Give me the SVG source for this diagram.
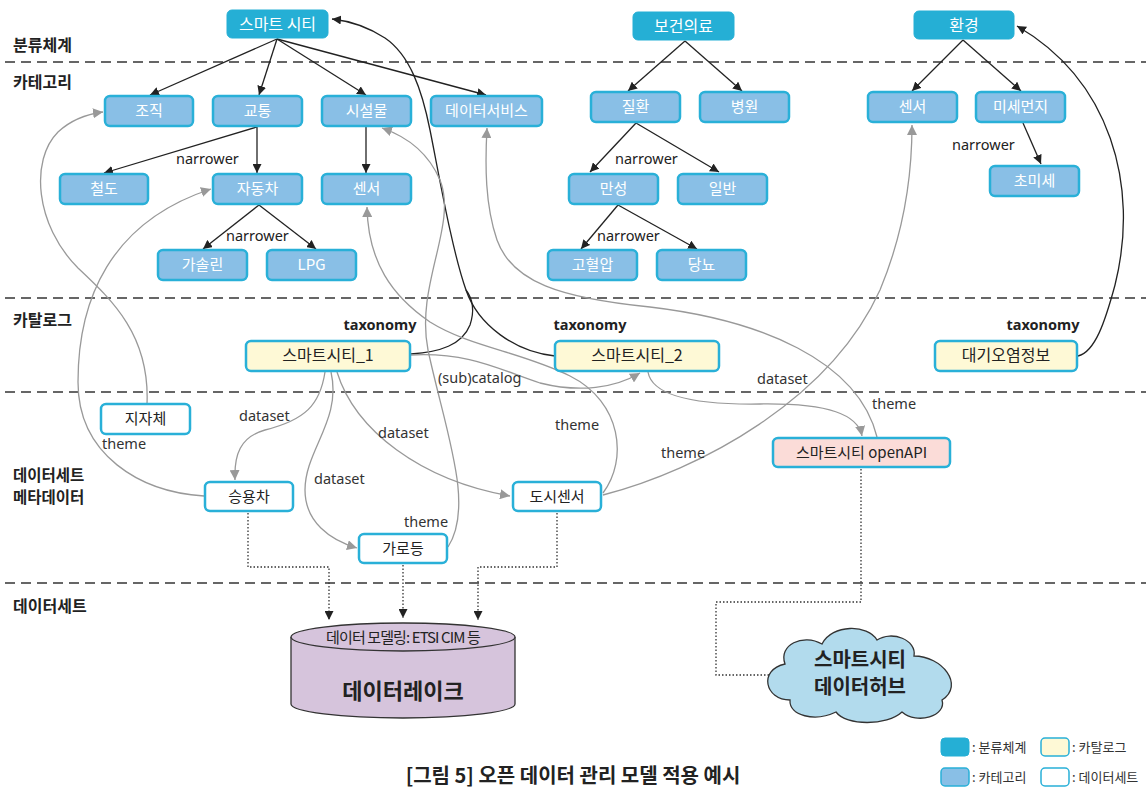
<svg xmlns="http://www.w3.org/2000/svg" width="1146" height="788" viewBox="0 0 1146 788">
<style>
.sec{font-family:"Noto Sans CJK KR","Noto Sans",sans-serif;font-weight:700;font-size:16px;fill:#222}
.tx{fill:#25afd5;stroke:#25afd5;stroke-width:1}
.cat{fill:#89bfe6;stroke:#29b0d8;stroke-width:2.5}
.ctl{fill:#fef9d6;stroke:#29b0d8;stroke-width:2.5}
.ds{fill:#ffffff;stroke:#29b0d8;stroke-width:2.5}
.api{fill:#fbdcd8;stroke:#29b0d8;stroke-width:2.5}
.wt{font-family:"Noto Sans CJK KR","Noto Sans",sans-serif;font-size:15px;fill:#ffffff;text-anchor:middle}
.dt{font-family:"Noto Sans CJK KR","Noto Sans",sans-serif;font-size:15px;fill:#222;text-anchor:middle}
.big{font-size:16px}
.lbl{font-family:"Noto Sans","Noto Sans CJK KR",sans-serif;font-size:14.5px;fill:#222}
.glbl{font-family:"Noto Sans","Noto Sans CJK KR",sans-serif;font-size:14.5px;fill:#333}
.bl{font-family:"Noto Sans","Noto Sans CJK KR",sans-serif;font-size:14.5px;font-weight:700;fill:#222;text-anchor:middle}
.dash{stroke:#666;stroke-width:2;stroke-dasharray:10 6;fill:none}
.blk{stroke:#222;stroke-width:1.3;fill:none}
.gry{stroke:#999;stroke-width:1.3;fill:none}
.dot{stroke:#333;stroke-width:1.3;stroke-dasharray:1.5 2;fill:none}
.leg{font-family:"Noto Sans CJK KR","Noto Sans",sans-serif;font-size:13px;fill:#333}
</style>
<defs>
<marker id="ab" viewBox="0 0 10 10" refX="10" refY="5" markerWidth="9" markerHeight="9" markerUnits="userSpaceOnUse" orient="auto"><path d="M0,0 L10,5 L0,10 z" fill="#222"/></marker>
<marker id="ag" viewBox="0 0 10 10" refX="10" refY="5" markerWidth="10" markerHeight="10" markerUnits="userSpaceOnUse" orient="auto"><path d="M0,0 L10,5 L0,10 z" fill="#999"/></marker>
</defs>
<rect width="1146" height="788" fill="#ffffff"/>

<!-- section separators -->
<g id="sections">
<line class="dash" x1="5" y1="62" x2="1146" y2="62"/>
<line class="dash" x1="5" y1="298" x2="1146" y2="298"/>
<line class="dash" x1="5" y1="392" x2="1146" y2="392"/>
<line class="dash" x1="5" y1="583" x2="1146" y2="583"/>
<text class="sec" x="13" y="51">분류체계</text>
<text class="sec" x="13" y="88">카테고리</text>
<text class="sec" x="13" y="326">카탈로그</text>
<text class="sec" x="13" y="481" style="font-size:15.5px">데이터세트</text>
<text class="sec" x="13" y="503" style="font-size:15.5px">메타데이터</text>
<text class="sec" x="13" y="612">데이터세트</text>
</g>

<!-- connectors -->
<g id="connectors">
<!-- taxonomy trees -->
<line class="blk" x1="277" y1="39" x2="150" y2="95" marker-end="url(#ab)"/>
<line class="blk" x1="277" y1="39" x2="259" y2="95" marker-end="url(#ab)"/>
<line class="blk" x1="277" y1="39" x2="366" y2="95" marker-end="url(#ab)"/>
<line class="blk" x1="277" y1="39" x2="486" y2="95" marker-end="url(#ab)"/>
<line class="blk" x1="257" y1="127" x2="104" y2="173" marker-end="url(#ab)"/>
<line class="blk" x1="257" y1="127" x2="257" y2="173" marker-end="url(#ab)"/>
<line class="blk" x1="366" y1="127" x2="366" y2="173" marker-end="url(#ab)"/>
<line class="blk" x1="259" y1="205" x2="203" y2="249" marker-end="url(#ab)"/>
<line class="blk" x1="259" y1="205" x2="316" y2="249" marker-end="url(#ab)"/>
<line class="blk" x1="685" y1="41" x2="628" y2="91" marker-end="url(#ab)"/>
<line class="blk" x1="685" y1="41" x2="742" y2="91" marker-end="url(#ab)"/>
<line class="blk" x1="636" y1="123" x2="590" y2="172" marker-end="url(#ab)"/>
<line class="blk" x1="636" y1="123" x2="719" y2="172" marker-end="url(#ab)"/>
<line class="blk" x1="618" y1="205" x2="581" y2="249" marker-end="url(#ab)"/>
<line class="blk" x1="618" y1="205" x2="697" y2="249" marker-end="url(#ab)"/>
<line class="blk" x1="963" y1="40" x2="912" y2="91" marker-end="url(#ab)"/>
<line class="blk" x1="963" y1="40" x2="1021" y2="91" marker-end="url(#ab)"/>
<line class="blk" x1="1023" y1="123" x2="1041" y2="164" marker-end="url(#ab)"/>
<text class="lbl" x="176" y="164">narrower</text>
<text class="lbl" x="226" y="241">narrower</text>
<text class="lbl" x="615" y="164">narrower</text>
<text class="lbl" x="597" y="241">narrower</text>
<text class="lbl" x="952" y="150">narrower</text>

<!-- taxonomy links from catalogs -->
<path class="blk" d="M555,356 C515,352 478,325 466,290 C452,250 440,180 430,130 C422,90 410,55 385,38 C368,27 350,21 332,19" marker-end="url(#ab)"/>
<path class="blk" d="M411,354 C440,352 462,345 470,325 C475,310 472,298 466,290"/>
<path class="blk" d="M1078,356 C1095,352 1105,322 1115,285 C1140,185 1110,80 1017,26" marker-end="url(#ab)"/>
<text class="bl" x="380" y="330">taxonomy</text>
<text class="bl" x="590" y="330">taxonomy</text>
<text class="bl" x="1043" y="330">taxonomy</text>

<!-- theme links -->
<path class="gry" d="M147,404 C150,335 112,300 78,268 C35,225 30,160 58,132 C72,119 88,114 103,112" marker-end="url(#ag)"/>
<path class="gry" d="M204,496 C140,492 78,455 78,382 C78,300 110,222 211,189" marker-end="url(#ag)"/>
<path class="gry" d="M448,547 C475,505 445,430 428,350 C415,285 458,225 440,180 C428,152 405,136 382,128" marker-end="url(#ag)"/>
<path class="gry" d="M877,437 C858,360 760,320 650,307 C560,298 512,282 497,240 C485,205 485,165 487,128" marker-end="url(#ag)"/>
<path class="gry" d="M603,495 C700,470 830,400 880,290 C905,230 912,175 912,125" marker-end="url(#ag)"/>
<path class="gry" d="M603,493 C628,460 622,402 570,376 C522,352 470,347 430,322 C392,296 368,262 367,207" marker-end="url(#ag)"/>
<text class="glbl" x="102" y="449">theme</text>
<text class="glbl" x="404" y="527">theme</text>
<text class="glbl" x="555" y="430">theme</text>
<text class="glbl" x="661" y="458">theme</text>
<text class="glbl" x="872" y="409">theme</text>

<!-- catalog / dataset links -->
<path class="gry" d="M411,355 C470,352 500,370 540,383 C580,393 615,388 640,373" marker-end="url(#ag)"/>
<path class="gry" d="M325,372 C320,405 305,420 265,430 C240,437 234,455 235,480" marker-end="url(#ag)"/>
<path class="gry" d="M331,372 C342,420 305,450 305,490 C305,522 330,540 357,548" marker-end="url(#ag)"/>
<path class="gry" d="M337,372 C355,430 420,480 510,496" marker-end="url(#ag)"/>
<path class="gry" d="M648,372 C652,395 690,405 760,404 C830,403 858,415 862,436" marker-end="url(#ag)"/>
<text class="glbl" x="438" y="383">(sub)catalog</text>
<text class="glbl" x="239" y="421">dataset</text>
<text class="glbl" x="314" y="484">dataset</text>
<text class="glbl" x="378" y="438">dataset</text>
<text class="glbl" x="757" y="384">dataset</text>

<!-- dotted storage links -->
<path class="dot" d="M248,513 V567 H329 V620" marker-end="url(#ab)"/>
<path class="dot" d="M403,565 V618" marker-end="url(#ab)"/>
<path class="dot" d="M557,513 V567 H478 V620" marker-end="url(#ab)"/>
<path class="dot" d="M861,469 V602 H716 V675 H801" marker-end="url(#ab)"/>
</g>

<!-- taxonomy nodes -->
<g id="n-smartcity"><rect class="tx" x="227" y="10" width="101" height="28" rx="5"/><text class="wt big" x="277.5" y="30">스마트 시티</text></g>
<g id="n-health"><rect class="tx" x="633" y="12" width="101" height="28" rx="5"/><text class="wt big" x="683.5" y="32">보건의료</text></g>
<g id="n-env"><rect class="tx" x="914" y="11" width="100" height="28" rx="5"/><text class="wt big" x="964" y="31">환경</text></g>

<!-- category nodes -->
<g id="n-org"><rect class="cat" x="105" y="96" width="88" height="30" rx="5"/><text class="wt" x="149" y="116">조직</text></g>
<g id="n-traffic"><rect class="cat" x="213" y="96" width="89" height="30" rx="5"/><text class="wt" x="257.5" y="116">교통</text></g>
<g id="n-facility"><rect class="cat" x="322" y="96" width="89" height="30" rx="5"/><text class="wt" x="366.5" y="116">시설물</text></g>
<g id="n-dataservice"><rect class="cat" x="431" y="96" width="111" height="30" rx="5"/><text class="wt" x="486.5" y="116">데이터서비스</text></g>
<g id="n-rail"><rect class="cat" x="60" y="174" width="88" height="30" rx="5"/><text class="wt" x="104" y="194">철도</text></g>
<g id="n-car"><rect class="cat" x="213" y="174" width="89" height="30" rx="5"/><text class="wt" x="257.5" y="194">자동차</text></g>
<g id="n-sensor1"><rect class="cat" x="322" y="174" width="89" height="30" rx="5"/><text class="wt" x="366.5" y="194">센서</text></g>
<g id="n-gasoline"><rect class="cat" x="158" y="250" width="89" height="30" rx="5"/><text class="wt" x="202.5" y="270">가솔린</text></g>
<g id="n-lpg"><rect class="cat" x="267" y="250" width="89" height="30" rx="5"/><text class="wt" x="311.5" y="270">LPG</text></g>
<g id="n-disease"><rect class="cat" x="591" y="92" width="89" height="30" rx="5"/><text class="wt" x="635.5" y="112">질환</text></g>
<g id="n-hospital"><rect class="cat" x="700" y="92" width="89" height="30" rx="5"/><text class="wt" x="744.5" y="112">병원</text></g>
<g id="n-chronic"><rect class="cat" x="569" y="174" width="89" height="30" rx="5"/><text class="wt" x="613.5" y="194">만성</text></g>
<g id="n-general"><rect class="cat" x="678" y="174" width="89" height="30" rx="5"/><text class="wt" x="722.5" y="194">일반</text></g>
<g id="n-bp"><rect class="cat" x="548" y="250" width="89" height="30" rx="5"/><text class="wt" x="592.5" y="270">고혈압</text></g>
<g id="n-diabetes"><rect class="cat" x="657" y="250" width="89" height="30" rx="5"/><text class="wt" x="701.5" y="270">당뇨</text></g>
<g id="n-sensor2"><rect class="cat" x="868" y="92" width="89" height="30" rx="5"/><text class="wt" x="912.5" y="112">센서</text></g>
<g id="n-dust"><rect class="cat" x="976" y="92" width="89" height="30" rx="5"/><text class="wt" x="1020.5" y="112">미세먼지</text></g>
<g id="n-finedust"><rect class="cat" x="990" y="166" width="89" height="30" rx="5"/><text class="wt" x="1034.5" y="186">초미세</text></g>

<!-- catalog nodes -->
<g id="n-cat1"><rect class="ctl" x="246" y="341" width="164" height="30" rx="5"/><text class="dt big" x="328" y="361">스마트시티_1</text></g>
<g id="n-cat2"><rect class="ctl" x="555" y="341" width="164" height="30" rx="5"/><text class="dt big" x="637" y="361">스마트시티_2</text></g>
<g id="n-air"><rect class="ctl" x="935" y="341" width="142" height="30" rx="5"/><text class="dt big" x="1006" y="361">대기오염정보</text></g>

<!-- dataset nodes -->
<g id="n-local"><rect class="ds" x="101" y="404" width="89" height="30" rx="5"/><text class="dt" x="145.5" y="424">지자체</text></g>
<g id="n-passenger"><rect class="ds" x="205" y="482" width="88" height="29" rx="5"/><text class="dt" x="249" y="502">승용차</text></g>
<g id="n-streetlight"><rect class="ds" x="359" y="534" width="88" height="29" rx="5"/><text class="dt" x="403" y="554">가로등</text></g>
<g id="n-citysensor"><rect class="ds" x="513" y="482" width="88" height="29" rx="5"/><text class="dt" x="557" y="502">도시센서</text></g>
<g id="n-openapi"><rect class="api" x="773" y="438" width="177" height="29" rx="5"/><text class="dt" x="861.5" y="458">스마트시티 openAPI</text></g>

<!-- data lake -->
<g id="n-datalake">
<path d="M291,637 V704 A112,14 0 0 0 515,704 V637" fill="#d6c4dc" stroke="#333" stroke-width="1.3"/>
<ellipse cx="403" cy="637" rx="112" ry="14" fill="#d6c4dc" stroke="#333" stroke-width="1.3"/>
<text class="dt" x="403" y="643" style="font-size:15px;letter-spacing:-0.9px">데이터 모델링: ETSI CIM 등</text>
<text class="dt" x="403" y="699" style="font-size:22px;font-weight:700">데이터레이크</text>
</g>

<!-- data hub cloud -->
<g id="n-datahub">
<path d="M790,700 C765,700 758,670 785,664 C778,645 803,633 822,644 C832,624 868,624 877,640 C892,630 917,640 914,656 C942,656 965,685 942,700 C947,716 917,725 902,712 C887,726 846,726 836,712 C815,722 789,716 790,700 Z" fill="#b2dbed" stroke="#333" stroke-width="1.3"/>
<text class="dt" x="860" y="667" style="font-size:20px;font-weight:700">스마트시티</text>
<text class="dt" x="860" y="694" style="font-size:20px;font-weight:700">데이터허브</text>
</g>

<!-- caption -->
<text x="573" y="783" text-anchor="middle" font-family="'Noto Sans CJK KR','Noto Sans',sans-serif" font-size="20" font-weight="700" fill="#222">[그림 5] 오픈 데이터 관리 모델 적용 예시</text>

<!-- legend -->
<g id="legend">
<rect x="941" y="738" width="28" height="18" rx="4" fill="#25afd5" stroke="#25afd5"/>
<text class="leg" x="972" y="752">: 분류체계</text>
<rect x="1041" y="738" width="28" height="18" rx="4" fill="#fef9d6" stroke="#29b0d8" stroke-width="1.5"/>
<text class="leg" x="1072" y="752">: 카탈로그</text>
<rect x="941" y="768" width="28" height="18" rx="4" fill="#89bfe6" stroke="#29b0d8" stroke-width="1.5"/>
<text class="leg" x="972" y="782">: 카테고리</text>
<rect x="1041" y="768" width="28" height="18" rx="4" fill="#ffffff" stroke="#29b0d8" stroke-width="1.5"/>
<text class="leg" x="1072" y="782">: 데이터세트</text>
</g>
</svg>
